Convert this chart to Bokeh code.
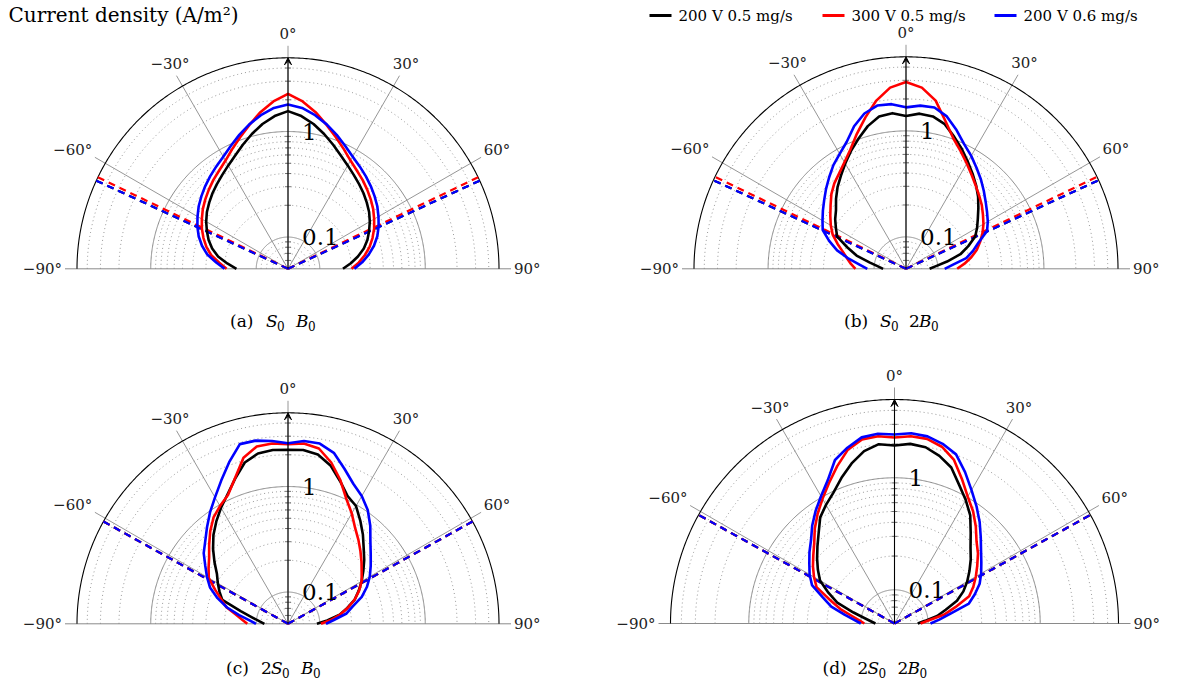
import numpy as np
from bokeh.plotting import figure
from bokeh.models import Range1d, Arrow, VeeHead
from bokeh.embed import file_html
from bokeh.resources import INLINE
from bokeh.core.properties import value

# ---------------- data ----------------
angles = [-90, -85, -80, -75, -70, -65, -60, -55, -50, -45, -40, -35, -30, -25, -20, -15, -10, -5, 0,
          5, 10, 15, 20, 25, 30, 35, 40, 45, 50, 55, 60, 65, 70, 75, 80, 85, 90]

series_labels = ["200 V  0.5 mg/s", "300 V  0.5 mg/s", "200 V  0.6 mg/s"]

# (a) S0 B0
a_black = [0.154, 0.189, 0.2355, 0.2774, 0.316, 0.3526, 0.393, 0.434, 0.472, 0.5145, 0.559, 0.610, 0.677, 0.765, 0.892, 1.052, 1.237, 1.42, 1.562,
           1.42, 1.237, 1.052, 0.892, 0.765, 0.677, 0.610, 0.559, 0.5145, 0.472, 0.434, 0.393, 0.3526, 0.316, 0.2774, 0.2355, 0.198, 0.166]
a_red = [0.191, 0.2254, 0.274, 0.316, 0.356, 0.398, 0.4385, 0.484, 0.528, 0.576, 0.629, 0.686, 0.765, 0.892, 1.061, 1.292, 1.607, 1.956, 2.28,
         1.956, 1.607, 1.292, 1.061, 0.892, 0.765, 0.686, 0.629, 0.576, 0.528, 0.484, 0.4385, 0.398, 0.356, 0.316, 0.274, 0.2354, 0.200]
a_blue = [0.200, 0.241, 0.299, 0.349, 0.398, 0.4435, 0.489, 0.540, 0.589, 0.643, 0.701, 0.765, 0.844, 0.962, 1.121, 1.307, 1.506, 1.697, 1.804,
          1.697, 1.506, 1.307, 1.121, 0.962, 0.844, 0.765, 0.701, 0.643, 0.589, 0.540, 0.489, 0.4435, 0.398, 0.349, 0.299, 0.254, 0.213]
# (b) S0 2B0
b_black = [0.0822, 0.0921, 0.112, 0.152, 0.1935, 0.260, 0.290, 0.327, 0.364, 0.429, 0.5055, 0.589, 0.701, 0.844, 1.016, 1.237, 1.441, 1.489, 1.38,
           1.473, 1.441, 1.292, 1.061, 0.882, 0.733, 0.622, 0.534, 0.458, 0.389, 0.336, 0.2975, 0.2627, 0.211, 0.170, 0.1237, 0.0962, 0.0835]
b_red = [0.150, 0.166, 0.183, 0.2066, 0.243, 0.290, 0.330, 0.372, 0.4245, 0.495, 0.564, 0.629, 0.725, 0.872, 1.133, 1.506, 2.044, 2.598, 2.897,
         2.598, 2.044, 1.38, 1.016, 0.835, 0.701, 0.602, 0.528, 0.473, 0.429, 0.385, 0.349, 0.313, 0.2774, 0.246, 0.211, 0.179, 0.152]
b_blue = [0.1159, 0.1365, 0.177, 0.2355, 0.2955, 0.368, 0.406, 0.453, 0.509, 0.583, 0.671, 0.782, 0.892, 1.0505, 1.35, 1.643, 1.832, 1.812, 1.668,
          1.754, 1.754, 1.539, 1.237, 0.994, 0.85, 0.725, 0.629, 0.546, 0.479, 0.429, 0.389, 0.349, 0.2685, 0.2254, 0.189, 0.1395, 0.1159]
# (c) 2S0 B0
c_black = [0.0837, 0.0931, 0.110, 0.1457, 0.230, 0.260, 0.293, 0.332, 0.406, 0.5055, 0.629, 0.765, 0.931, 1.133, 1.457, 1.914, 2.18, 2.254, 2.23,
           2.254, 2.135, 1.792, 1.38, 1.085, 0.973, 0.782, 0.636, 0.517, 0.4385, 0.372, 0.320, 0.274, 0.2355, 0.191, 0.157, 0.118, 0.094]
c_red = [0.1216, 0.1365, 0.159, 0.201, 0.2345, 0.2885, 0.368, 0.415, 0.473, 0.570, 0.701, 0.85, 0.973, 1.109, 1.473, 2.135, 2.542, 2.598, 2.514,
         2.598, 2.433, 1.914, 1.41, 1.016, 0.808, 0.643, 0.546, 0.468, 0.406, 0.356, 0.320, 0.2774, 0.2355, 0.1935, 0.159, 0.1278, 0.1027]
c_blue = [0.1006, 0.1161, 0.1477, 0.198, 0.257, 0.327, 0.385, 0.453, 0.552, 0.643, 0.782, 0.973, 1.21, 1.573, 2.135, 2.897, 2.897, 2.744, 2.570,
          2.744, 2.714, 2.381, 1.832, 1.457, 1.2505, 1.039, 0.817, 0.636, 0.528, 0.453, 0.393, 0.334, 0.2774, 0.216, 0.183, 0.138, 0.1146]
# (d) 2S0 2B0
d_black = [0.074, 0.0807, 0.093, 0.1196, 0.175, 0.224, 0.293, 0.342, 0.399, 0.470, 0.566, 0.717, 0.836, 0.975, 1.21, 1.509, 1.826, 2.023, 1.943,
           2.037, 1.982, 1.770, 1.518, 1.161, 0.936, 0.755, 0.572, 0.456, 0.387, 0.328, 0.281, 0.2385, 0.196, 0.1487, 0.1218, 0.0938, 0.0806]
d_red = [0.0929, 0.1034, 0.1215, 0.158, 0.205, 0.293, 0.338, 0.387, 0.442, 0.516, 0.640, 0.786, 0.966, 1.21, 1.565, 2.023, 2.336, 2.386, 2.289,
         2.386, 2.361, 2.152, 1.789, 1.328, 1.016, 0.836, 0.674, 0.543, 0.470, 0.399, 0.345, 0.299, 0.256, 0.1826, 0.140, 0.1006, 0.0854]
d_blue = [0.100, 0.115, 0.142, 0.192, 0.240, 0.325, 0.375, 0.424, 0.490, 0.566, 0.695, 0.845, 1.027, 1.287, 1.789, 2.109, 2.435, 2.511, 2.435,
          2.537, 2.485, 2.289, 2.023, 1.549, 1.186, 0.946, 0.762, 0.614, 0.510, 0.442, 0.391, 0.345, 0.290, 0.2435, 0.161, 0.126, 0.1048]

# divergence half-angles (deg) for black, red, blue
div_a = [65.3, 64.3, 65.3]
div_b = [65.3, 64.3, 65.3]
div_c = [61.0, 61.0, 61.0]
div_d = [61.0, 61.0, 61.0]

R_MIN, R_MAX = 0.05, 5.0
major_circles = [0.1, 1.0]
major_labels = ["0.1", "1"]
minor_circles = [0.06, 0.07, 0.08, 0.09, 0.2, 0.3, 0.4, 0.5, 0.6, 0.7, 0.8, 0.9, 2, 3, 4]
angle_ticks = [-90, -60, -30, 0, 30, 60, 90]
angle_labels = ["\u221290\u00b0", "\u221260\u00b0", "\u221230\u00b0", "0\u00b0", "30\u00b0", "60\u00b0", "90\u00b0"]

title_text = "Current density (A/m\u00b2)"

# captions: (text, kind, x offset from panel centre)
cap_a = [("(a)", "up", -58), ("S", "it", -22), ("0", "sub", -11), ("B", "it", 8), ("0", "sub", 20)]
cap_b = [("(b)", "up", -62), ("S", "it", -26), ("0", "sub", -15), ("2", "up", 3), ("B", "it", 13), ("0", "sub", 25)]
cap_c = [("(c)", "up", -62), ("2", "up", -27), ("S", "it", -17), ("0", "sub", -6), ("B", "it", 13), ("0", "sub", 25)]
cap_d = [("(d)", "up", -72), ("2", "up", -37), ("S", "it", -27), ("0", "sub", -16), ("2", "up", 3), ("B", "it", 13), ("0", "sub", 25)]

# ---------------- layout / style ----------------
COLORS = ["black", "#ff0000", "#0000ff"]
FONT = value("DejaVu Serif")

panels = [
    dict(cx=287.5, cy=268.3, R=211, cap=cap_a, data=(a_black, a_red, a_blue), div=div_a, capy=320),
    dict(cx=905.5, cy=268.3, R=212, cap=cap_b, data=(b_black, b_red, b_blue), div=div_b, capy=320),
    dict(cx=287.5, cy=623.3, R=211, cap=cap_c, data=(c_black, c_red, c_blue), div=div_c, capy=667),
    dict(cx=894.0, cy=623.0, R=224, cap=cap_d, data=(d_black, d_red, d_blue), div=div_d, capy=667),
]

W, H = 1170, 680
p = figure(width=W, height=H, x_range=Range1d(0, W), y_range=Range1d(H, 0),
           output_backend="svg", toolbar_location=None, min_border=0,
           x_axis_location=None, y_axis_location=None)
p.grid.visible = False
p.outline_line_color = None
p.background_fill_color = "white"


def rad(P, v):
    return P["R"] * np.log10(np.asarray(v, float) / R_MIN) / np.log10(R_MAX / R_MIN)


def pxy(P, th, rr):
    t = np.radians(np.asarray(th, float))
    return P["cx"] + rr * np.sin(t), P["cy"] - rr * np.cos(t)


arc_th = np.linspace(-90, 90, 361)

for P in panels:
    cx, cy, R = P["cx"], P["cy"], P["R"]
    # minor dotted circles
    xs, ys = [], []
    for v in minor_circles:
        x, y = pxy(P, arc_th, rad(P, v))
        xs.append(list(x)); ys.append(list(y))
    p.multi_line(xs, ys, line_color="#8c8c8c", line_width=0.9, line_dash="1 3")
    # major circles
    xs, ys = [], []
    for v in major_circles:
        x, y = pxy(P, arc_th, rad(P, v))
        xs.append(list(x)); ys.append(list(y))
    p.multi_line(xs, ys, line_color="#8a8a8a", line_width=1)
    # spokes
    sp = [-60, -30, 0, 30, 60]
    x1, y1 = pxy(P, sp, R + 12)
    p.segment(x0=[cx] * len(sp), y0=[cy] * len(sp), x1=list(x1), y1=list(y1), line_color="#8a8a8a", line_width=0.9)
    p.segment(x0=[cx - R - 12], y0=[cy], x1=[cx + R + 12], y1=[cy], line_color="#8a8a8a", line_width=1)
    # outer circle
    x, y = pxy(P, arc_th, R)
    p.line(list(x), list(y), line_color="black", line_width=1.1)
    # axis ticks along 0 deg
    tv = minor_circles
    tr = rad(P, tv)
    p.segment(x0=[cx - 3] * len(tv), y0=list(cy - tr), x1=[cx + 3] * len(tv), y1=list(cy - tr),
              line_color="#666666", line_width=0.9)
    # axis arrow
    p.add_layout(Arrow(end=VeeHead(size=7, fill_color="black", line_color="black", line_width=1),
                       x_start=cx, y_start=cy, x_end=cx, y_end=cy - R,
                       line_color="black", line_width=1.1))
    # divergence dashed lines
    for d, col in zip(P["div"], COLORS):
        xe, ye = pxy(P, [-d, d], R)
        p.segment(x0=[cx, cx], y0=[cy, cy], x1=list(xe), y1=list(ye),
                  line_color=col, line_width=2.2, line_dash="7 5")
    # curves
    for vals, col in zip(P["data"], COLORS):
        x, y = pxy(P, angles, rad(P, vals))
        p.line(list(x), list(y), line_color=col, line_width=2.6, line_join="round")
    # radial labels
    for v, lab in zip(major_circles, major_labels):
        rr = float(rad(P, v))
        p.text(x=[cx + 14], y=[cy - rr], text=[lab], text_font=FONT, text_font_size="23px",
               text_align="left", text_baseline="middle", text_color="black")
    # angle labels
    for a, lab in zip(angle_ticks, angle_labels):
        x, y = pxy(P, [a], R + 15)
        if abs(a) == 90:
            p.text(x=list(x), y=list(y), text=[lab], text_font=FONT, text_font_size="15px",
                   text_align="left" if a > 0 else "right", text_baseline="middle", text_color="#222222")
        elif abs(a) == 60:
            p.text(x=list(x), y=list(y + 3), text=[lab], text_font=FONT, text_font_size="15px",
                   text_align="left" if a > 0 else "right", text_baseline="bottom", text_color="#222222")
        else:
            x = x + 10 * np.sin(np.radians(a))
            p.text(x=list(x), y=list(y), text=[lab], text_font=FONT, text_font_size="15px",
                   text_align="center", text_baseline="bottom", text_color="#222222")
    # caption
    for txt, kind, dx in P["cap"]:
        if kind == "sub":
            p.text(x=[cx + dx], y=[P["capy"] + 5], text=[txt], text_font=FONT, text_font_size="12px",
                   text_align="left", text_baseline="middle", text_color="black")
        else:
            p.text(x=[cx + dx], y=[P["capy"]], text=[txt], text_font=FONT, text_font_size="17px",
                   text_font_style="italic" if kind == "it" else "normal",
                   text_align="left", text_baseline="middle", text_color="black")

# title
p.text(x=[8], y=[14], text=[title_text], text_font=FONT, text_font_size="20px",
       text_align="left", text_baseline="middle", text_color="black")

# legend (manual, horizontal)
leg_x = [649, 822, 994]
for lx, lab, col in zip(leg_x, series_labels, COLORS):
    p.segment(x0=[lx], y0=[15], x1=[lx + 22], y1=[15], line_color=col, line_width=3)
    p.text(x=[lx + 29], y=[15], text=[lab], text_font=FONT, text_font_size="15px",
           text_align="left", text_baseline="middle", text_color="black")

open("out.html", "w").write(file_html(p, INLINE))
